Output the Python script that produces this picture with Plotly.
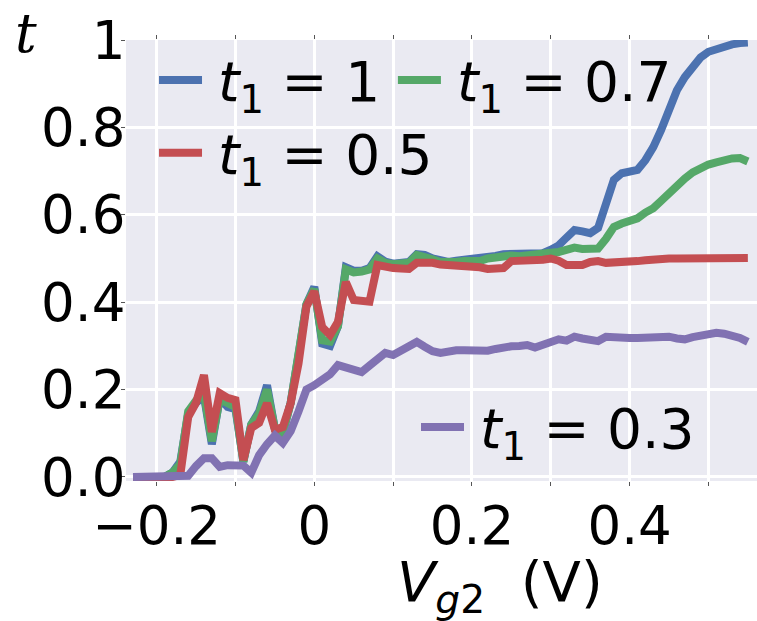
import plotly.graph_objects as go

# Gate voltage sweep (V)
vg2 = [-0.23, -0.22, -0.21, -0.20, -0.19, -0.18, -0.17, -0.16, -0.15, -0.14,
       -0.13, -0.12, -0.11, -0.10, -0.09, -0.08, -0.07, -0.06, -0.05, -0.04,
       -0.03, -0.02, -0.01, 0.00, 0.01, 0.02, 0.03, 0.04, 0.05, 0.06,
       0.07, 0.08, 0.09, 0.10, 0.11, 0.12, 0.13, 0.14, 0.15, 0.16,
       0.17, 0.18, 0.19, 0.20, 0.21, 0.22, 0.23, 0.24, 0.25, 0.26,
       0.27, 0.28, 0.29, 0.30, 0.31, 0.32, 0.33, 0.34, 0.35, 0.36,
       0.37, 0.38, 0.39, 0.40, 0.41, 0.42, 0.43, 0.44, 0.45, 0.46,
       0.47, 0.48, 0.49, 0.50, 0.51, 0.52, 0.53, 0.54, 0.55]

# transmission t for t1 = 1
t_1p0 = [0, 0, 0, 0, 0, 0.01, 0.035, 0.145, 0.17, 0.185,
         0.075, 0.18, 0.16, 0.155, 0.035, 0.12, 0.15, 0.21, 0.11, 0.10,
         0.17, 0.28, 0.395, 0.435, 0.305, 0.30, 0.345, 0.48, 0.472, 0.472,
         0.478, 0.505, 0.493, 0.488, 0.49, 0.492, 0.51, 0.508, 0.50, 0.494,
         0.492, 0.495, 0.497, 0.497, 0.50, 0.503, 0.506, 0.51, 0.51, 0.508,
         0.508, 0.51, 0.512, 0.52, 0.53, 0.548, 0.565, 0.562, 0.558, 0.57,
         0.625, 0.68, 0.695, 0.698, 0.703, 0.725, 0.755, 0.794, 0.84, 0.885,
         0.915, 0.94, 0.96, 0.973, 0.98, 0.986, 0.99, 0.993, 0.994]

# transmission t for t1 = 0.7
t_0p7 = [0, 0, 0, 0, 0, 0.01, 0.03, 0.15, 0.175, 0.19,
         0.082, 0.178, 0.168, 0.16, 0.035, 0.12, 0.145, 0.20, 0.11, 0.10,
         0.17, 0.28, 0.395, 0.43, 0.313, 0.31, 0.345, 0.475, 0.468, 0.47,
         0.475, 0.50, 0.49, 0.487, 0.488, 0.49, 0.508, 0.505, 0.498, 0.492,
         0.49, 0.492, 0.494, 0.494, 0.494, 0.50, 0.503, 0.508, 0.507, 0.505,
         0.506, 0.508, 0.51, 0.513, 0.515, 0.522, 0.525, 0.522, 0.521, 0.523,
         0.545, 0.572, 0.58, 0.586, 0.592, 0.605, 0.615, 0.632, 0.65, 0.667,
         0.683, 0.697, 0.708, 0.715, 0.72, 0.725, 0.729, 0.73, 0.722]

# transmission t for t1 = 0.5
t_0p5 = [0, 0, 0, 0, 0, 0, 0.005, 0.137, 0.17, 0.233,
         0.103, 0.192, 0.181, 0.176, 0.039, 0.112, 0.124, 0.169, 0.108, 0.114,
         0.169, 0.26, 0.39, 0.425, 0.343, 0.325, 0.355, 0.446, 0.405, 0.403,
         0.401, 0.485, 0.48, 0.478, 0.477, 0.476, 0.49, 0.492, 0.49, 0.486,
         0.485, 0.484, 0.485, 0.483, 0.48, 0.476, 0.477, 0.478, 0.494, 0.494,
         0.494, 0.496, 0.497, 0.50, 0.495, 0.485, 0.485, 0.485, 0.492, 0.494,
         0.49, 0.49, 0.49, 0.494, 0.494, 0.496, 0.498, 0.501, 0.50, 0.50,
         0.50, 0.501, 0.501, 0.501, 0.501, 0.501, 0.502, 0.502, 0.501]

# transmission t for t1 = 0.3
t_0p3 = [0, 0, 0, 0, 0, 0, 0, 0.003, 0.025, 0.043,
         0.043, 0.023, 0.027, 0.028, 0.026, 0.010, 0.05, 0.075, 0.095, 0.078,
         0.105, 0.15, 0.20, 0.21, 0.22, 0.235, 0.256, 0.252, 0.245, 0.24,
         0.255, 0.272, 0.284, 0.279, 0.29, 0.30, 0.309, 0.298, 0.288, 0.284,
         0.288, 0.29, 0.29, 0.289, 0.289, 0.289, 0.293, 0.298, 0.299, 0.30,
         0.302, 0.296, 0.303, 0.308, 0.315, 0.312, 0.321, 0.317, 0.313, 0.311,
         0.321, 0.319, 0.317, 0.318, 0.318, 0.319, 0.32, 0.32, 0.321, 0.317,
         0.315, 0.32, 0.323, 0.329, 0.33, 0.328, 0.325, 0.318, 0.309]

SP = "\u2009"
series = [
    (SP + "<i>t</i><sub>1</sub> = 1", t_1p0, "#4C72B0", "legend"),
    (SP + "<i>t</i><sub>1</sub> = 0.7", t_0p7, "#55A868", "legend2"),
    (SP + "<i>t</i><sub>1</sub> = 0.5", t_0p5, "#C44E52", "legend3"),
    (SP + "<i>t</i><sub>1</sub> = 0.3", t_0p3, "#8172B2", "legend4"),
]

x_ticks = [-0.2, 0.0, 0.2, 0.4]
x_ticktext = ["\u22120.2", "0", "0.2", "0.4"]
y_ticks = [0.0, 0.2, 0.4, 0.6, 0.8, 1.0]
y_ticktext = ["0.0", "0.2", "0.4", "0.6", "0.8", "1"]

FONT = "DejaVu Sans"
BG = "#EAEAF2"

fig = go.Figure()
for name, ys, color, leg in series:
    fig.add_trace(go.Scatter(
        x=vg2, y=ys, mode="lines", name=name, legend=leg, showlegend=True,
        line=dict(color=color, width=8, shape="linear"),
    ))

legend_common = dict(
    bgcolor="rgba(0,0,0,0)", borderwidth=0, itemwidth=43, visible=True,
    font=dict(family=FONT, size=55, color="black"),
    xanchor="left", yanchor="middle", tracegroupgap=0,
)
fig.update_layout(
    width=757, height=621, showlegend=True,
    margin=dict(l=126, r=0, t=40, b=140),
    paper_bgcolor="white", plot_bgcolor=BG,
    font=dict(family=FONT, color="black"),
    legend=dict(x=0.0444, y=0.909, **legend_common),
    legend2=dict(x=0.423, y=0.909, **legend_common),
    legend3=dict(x=0.0444, y=0.744, **legend_common),
    legend4=dict(x=0.4596, y=0.122, **legend_common),
    xaxis=dict(
        range=[-0.2389, 0.5616], tickvals=x_ticks, ticktext=x_ticktext,
        showgrid=True, gridcolor="white", gridwidth=2.5, zeroline=False,
        ticks="outside", ticklen=4, tickcolor="#555", tickwidth=1,
        mirror="ticks", showline=False, ticklabelstandoff=-6,
        tickfont=dict(family=FONT, size=53, color="black"),
        minor=dict(dtick=0.1, tick0=0, showgrid=True, gridcolor="white",
                   gridwidth=2.5, ticks="outside", ticklen=4, tickcolor="#555"),
    ),
    yaxis=dict(
        range=[-0.0092, 1.0], tickvals=y_ticks, ticktext=y_ticktext,
        showgrid=True, gridcolor="white", gridwidth=2.5, zeroline=False,
        ticks="outside", ticklen=4, tickcolor="#555", tickwidth=1,
        mirror="ticks", showline=False, ticklabelstandoff=-15,
        tickfont=dict(family=FONT, size=53, color="black"),
    ),
    annotations=[
        dict(text="<i>V</i><sub><i>g</i>2</sub>  (V)", xref="paper", yref="paper",
             x=0.593, y=-0.236, xanchor="center", yanchor="middle",
             showarrow=False, font=dict(family=FONT, size=56, color="black")),
        dict(text="<i>t</i>", xref="paper", yref="paper",
             x=(26 - 126) / 631, y=(481 - 0) / 441, xanchor="center", yanchor="top",
             showarrow=False, font=dict(family="DejaVu Serif", size=54, color="black")),
    ],
)

fig.write_html("out.html")
